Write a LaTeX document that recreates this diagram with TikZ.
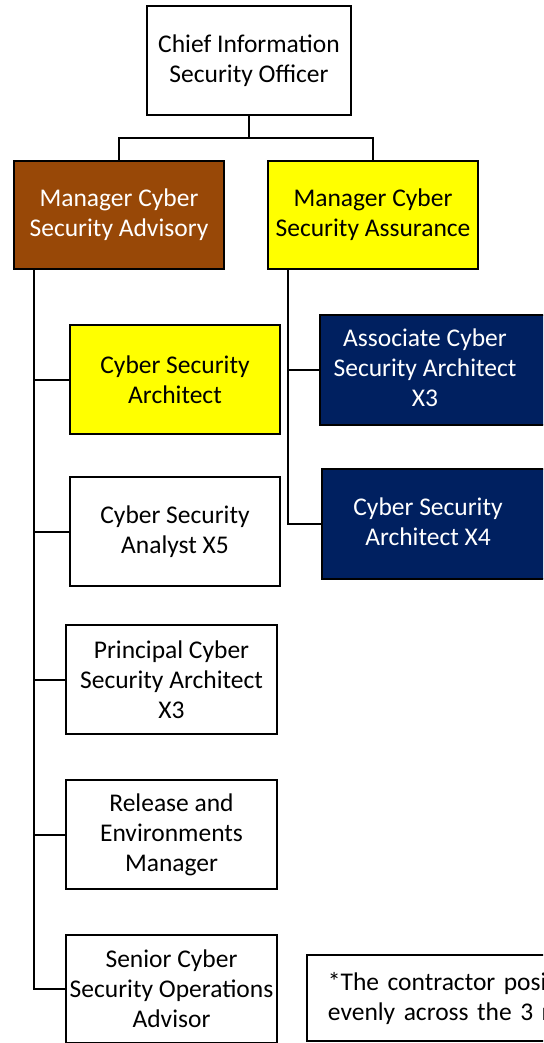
\documentclass[tikz,border=0pt]{standalone}
\usepackage{fontspec}
\setmainfont{Carlito}
\usetikzlibrary{calc}
\definecolor{brownbox}{HTML}{984807}
\definecolor{navybox}{HTML}{002060}
\definecolor{yellowbox}{HTML}{FFFF00}
\newcommand\padr[2]{\begin{tabular}{@{}c@{\hspace{#1pt}}}#2\end{tabular}}
\begin{document}
\begin{tikzpicture}[x=1pt,y=-1pt,
  box/.style={draw=black, line width=1.9pt, rectangle, inner sep=0pt, align=center,
    font=\fontsize{25.5}{30}\selectfont, text=black, fill=white},
  brownfill/.style={fill=brownbox, text=white},
  yellowfill/.style={fill=yellowbox, text=black},
  navyfill/.style={fill=navybox, text=white},
  conn/.style={draw=black, line width=2pt}]
\useasboundingbox (0,0) rectangle (543,1043);
\clip (0,0) rectangle (543,1043);
\fill[white] (0,0) rectangle (543,1043);

\node[box, minimum width=204pt, minimum height=109pt] (ciso) at (249,60.5) {Chief Information\\Security Officer};
\node[box, brownfill, minimum width=210pt, minimum height=108pt] (mca) at (119,215) {Manager Cyber\\Security Advisory};
\node[box, yellowfill, minimum width=210pt, minimum height=108pt] (mcs) at (373,215) {Manager Cyber\\Security Assurance};

\node[box, yellowfill, minimum width=210pt, minimum height=109pt] (csa) at (175,379.5) {Cyber Security\\Architect};
\node[box, minimum width=210pt, minimum height=109pt] (ana) at (175,531.5) {Cyber Security\\Analyst X5};
\node[box, minimum width=211pt, minimum height=109pt] (pca) at (171.5,679.5) {Principal Cyber\\Security Architect\\X3};
\node[box, minimum width=211pt, minimum height=109pt] (rel) at (171.5,834.5) {Release and\\Environments\\Manager};
\node[box, minimum width=211pt, minimum height=108pt] (sen) at (171.5,989) {Senior Cyber\\Security Operations\\Advisor};

\node[box, navyfill, minimum width=240pt, minimum height=110pt] (aca) at (440,370) {\padr{30}{Associate Cyber\\Security Architect\\X3}};
\node[box, navyfill, minimum width=240pt, minimum height=110pt] (csx) at (442,524) {\padr{28}{Cyber Security\\Architect X4}};

\node[box, anchor=west, minimum height=86pt, text width=380pt, inner xsep=21pt, align=left] (note) at (306,998) {*The contractor posit\\evenly across the 3 n};

\coordinate (bus) at ($(ciso.south)+(0,22)$);
\draw[conn] (ciso.south) -- (bus);
\draw[conn] (bus) -| (mca.north);
\draw[conn] (bus) -| (mcs.north);

\coordinate (tl) at ($(mca.south west)+(21,0)$);
\coordinate (tr) at ($(mcs.south west)+(21,0)$);
\draw[conn] (tl) |- (sen.west);
\draw[conn] (tl) |- (csa.west);
\draw[conn] (tl) |- (ana.west);
\draw[conn] (tl) |- (pca.west);
\draw[conn] (tl) |- (rel.west);
\draw[conn] (tr) |- (csx.west);
\draw[conn] (tr) |- (aca.west);
\end{tikzpicture}
\end{document}
